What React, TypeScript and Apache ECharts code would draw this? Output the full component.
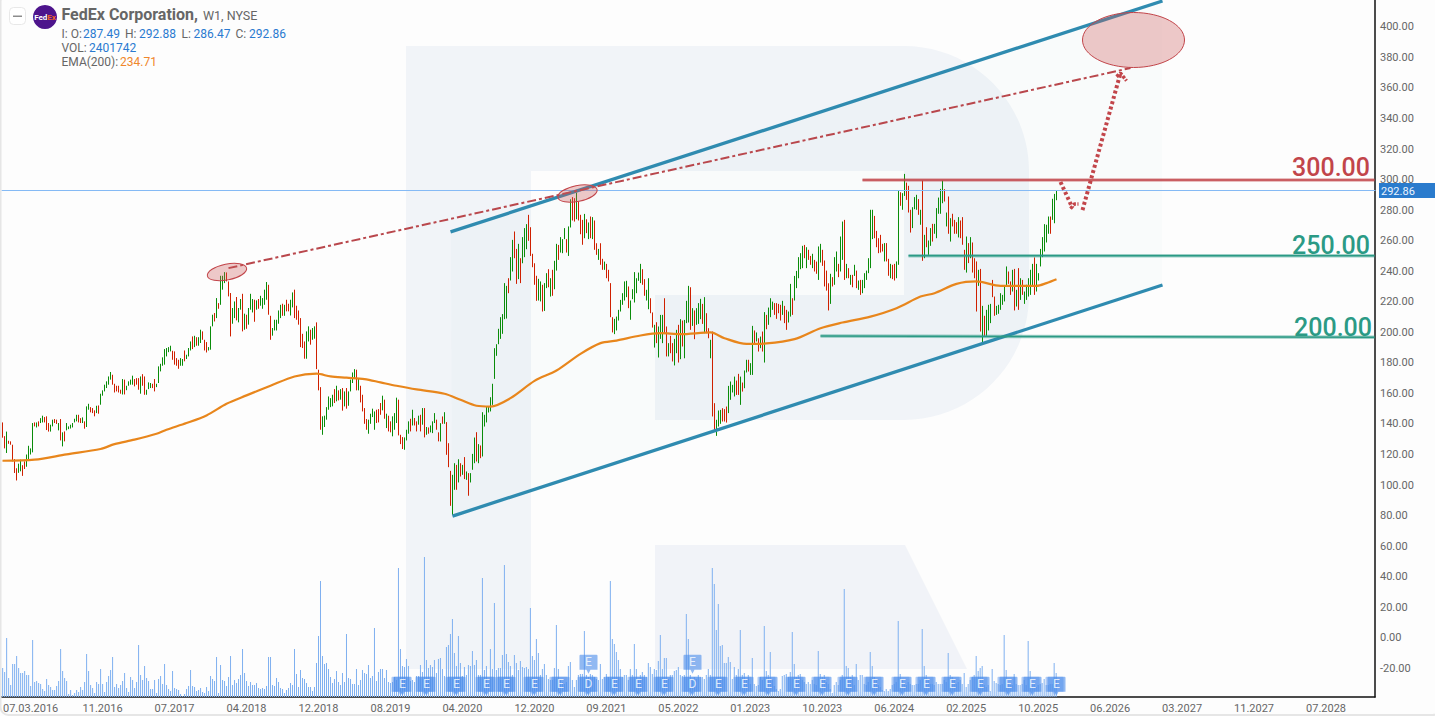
import React, { useEffect, useRef } from "react";
import * as echarts from "echarts";

const CATEGORY_COUNT = 687;
const FIRST_TICK = 14;
const TICK_STEP = 36;
const tickLabels = ["07.03.2016","11.2016","07.2017","04.2018","12.2018","08.2019","04.2020","12.2020","09.2021","05.2022","01.2023","10.2023","06.2024","02.2025","10.2025","06.2026","03.2027","11.2027","07.2028"];

const highs = [
141,132,135,129,128.6,126.4,117,111,114,116.6,
113,115.5,120,125.7,124,140.6,141,141,141.7,143.8,
145.4,144.5,145,140.6,139.5,142.8,143.2,142.8,140.6,143.2,
134.5,135.1,140.6,138.4,139.5,140.6,143.4,146,146,143.8,
144.3,141.7,151.5,153.2,151,150.4,148.9,151.9,152.1,159.8,
162,165.7,167.9,171.1,174,172.2,166.3,165,165,162.4,
169.4,169,165,167.9,169,171.6,169.4,170,170,171.1,
172.6,171.1,162.4,167.2,166.8,166.3,169.4,166.3,177.7,179.4,
183.6,189,189.7,190.3,191.2,187.9,187.5,183.1,182,183.1,
182.5,188.1,185.3,189.7,194,197.3,197.7,196.8,196.8,201.7,
200.6,195.1,193.6,190.3,203.9,211.5,212.6,222.4,219.1,237,
237,239.4,239.2,233.3,225.7,215.9,220.2,223.1,215.9,221.8,
225.2,212.2,211.5,215.9,225.2,221.8,221.3,220.9,221.8,223.9,
222.4,227.9,232.9,231.1,210.8,202.8,208.2,208.2,214.3,218,
218.7,218,221.3,218.7,221.3,226.1,227.9,217.4,214.3,209.3,
199,194,200.6,203.9,201.7,202.8,203.9,206.5,175.5,164.1,
145,145.4,151,158,156.9,159.1,162.8,165,162,162.8,
163.5,161.3,163.5,161.3,169,173.7,175.9,175.5,169.4,165,
159.1,150.4,143.2,142.8,146.7,150,148.2,149.3,149.7,153.7,
158.5,155.9,146.7,145.4,141.7,145,147.1,157.2,155.9,132.9,
131.4,131.2,136.2,141.7,143.4,149.3,143.9,141.7,145.4,146,
150.4,150.4,138,137.7,139,141.7,147.1,142.8,134.5,140.5,
144.9,147.7,141.2,127.4,109.3,106.7,114.3,113.2,116.9,114.3,
113.2,118.3,108.9,107.8,107.8,120.4,131.1,134.6,126.8,125.9,
147.7,146,151.4,151.4,157.5,166.3,189.6,192.2,202.3,209.9,
211.9,232.2,230.4,235.4,249.2,260.5,266,254.6,257.9,248.5,
262.3,268.2,270.8,276.9,268.8,251.4,245.2,237,235,233.3,
231.1,232.2,238.7,241.3,235.4,240.9,246.8,257.9,257.2,262.3,
261,268.2,261,269.3,287.1,288.5,287.8,291.5,285.6,276.9,
273.6,277.5,274,271.9,275.8,275.4,273.2,258.3,254.6,258.3,
248.1,246.3,244.8,240.9,232.2,209.9,208.8,210.3,214.7,221.2,
225.6,233.3,233.7,230,220.8,228.2,239.4,235.4,239.1,244.8,
241.3,234.8,227.8,235.4,222.3,213,204.9,206.6,203.8,211.4,
211.4,222.3,203.8,192.9,197.7,192.9,195.7,201.6,204.9,208.6,
207.7,208.1,220.6,230.4,229.5,215.8,214.3,215.8,219.1,221.9,
218.6,223,212.5,202.7,195.1,200.5,153.6,142.7,148.8,149.2,
150.3,149.7,151.4,164.9,167.8,165.6,171,168.4,172.8,171,
167.1,175,182,182,179.8,204.2,201.2,199.9,196.1,197.2,
200.5,213.2,211.4,216.2,222.3,220.1,219.1,219.1,218.6,218,
220.6,217.3,214.7,213.6,231.7,222.3,236.9,240.2,249.2,251.8,
256.6,257.2,255.7,254,250,251.4,247.4,246.3,256.2,257.9,
254,247,240.4,232.1,238.3,236.1,249.2,252.9,244.8,262.7,
272.5,273.6,244.8,242,237.6,237.6,244.2,240.4,233.9,234.3,
234.3,238.7,240.4,248.5,280.2,280.2,276.2,266.4,261.6,263.8,
257.9,258.4,258.4,248.1,244.8,244.2,244.8,246.4,292.6,291.7,
291.1,303.7,298,295.9,280.2,281.9,288.5,290,287.2,280.2,
299.4,263.8,268.8,260.1,268.2,271,271,281.3,288.2,293.9,
299.4,293.7,278.4,288.9,274.7,277.6,273.6,272.1,275.4,273.2,
275.4,254,262.7,258.4,262.3,258.8,248.5,246.4,240.9,241.5,
217.3,210.8,214.7,218,218.6,234.3,223.4,217.3,218,225.6,
224.5,230.4,243.1,239.8,233.3,240.9,241.5,227.8,242,235.4,
234.3,226.7,231.1,235.4,240.9,244.8,249,244.8,238.7,254.6,
262.3,270.8,270.4,275.8,275.8,287.4,290.6,292.88];

const lows = [
131,124,121,127,126.4,115.5,107.9,103,108,109,
106,110.5,112,117,120,121.4,138.4,137.7,138.4,140.6,
141,141,136,135,135,138.4,140.6,140,135.8,129.2,
125.3,128.6,135.8,136.6,137,137.7,141,141.7,141,140.6,
140.6,136.9,138,149.3,147.6,147.1,145,147.1,146.7,152.6,
158.5,161.3,163.5,165.7,169,165.7,160.6,161.3,160.6,159.8,
159.3,159.3,162.1,165,165.7,165.7,164.6,165.7,162.4,159.8,
165,159.1,159.1,162.8,163.5,163.5,161.3,164.1,166.8,174.4,
178.1,178.8,184.2,187,187.5,182,178.8,178.1,176.1,178.1,
178.1,181,182.5,184.2,188.1,189,190.3,191.2,191.2,193,
195.1,188.1,186.8,188.1,188.6,203.9,207.1,209.3,215.4,218,
227.9,232.2,233.3,223.5,197.3,205.6,209.3,207.8,206.5,214.8,
200.6,201.7,202.3,205,214.8,213,206.9,214.8,215.4,217.4,
215.4,218,221.3,211.5,195.1,197.8,201.2,201.2,205.6,209.3,
210.8,210.8,213.7,213.7,211,216.3,209.3,208.2,205,190.3,
189.7,182.7,182.7,194,191.9,195.1,195.8,175.9,162,136.2,
132.9,138,142.8,149.3,151,151.5,153.7,154.8,155.4,155.9,
148.7,151.5,150,151.9,161.3,166.8,170,162,162,154.1,
148.2,140.1,136.2,133.6,140.1,144.5,136.2,140.6,141,146,
148.9,143.4,137.3,135.1,134.5,131.9,136.2,140.6,132.5,126.8,
123.6,123.1,129.2,133.6,135.1,139,139,135.1,139.5,135.1,
139.5,131.2,132.9,133.6,134.5,134,140.6,136.2,128.6,128.5,
140.1,140.1,119.8,111.7,86.4,80.5,96.9,96.9,101.7,105.6,
106.7,103.9,103.4,93,101.7,110,114.3,115.4,114.3,117.6,
118.7,138.3,141,147.5,148.2,152.5,169.5,184.6,192.2,195.7,
199,208.6,209,225.6,233.9,239.8,248.5,231.7,234.8,232.2,
245.2,249.2,254.4,259.9,250,242.6,231.1,220.6,220.8,220.2,
213.6,214,228.9,229.5,223.4,223.9,228.2,240.4,247.4,252.2,
251.8,261,252.2,250,268.6,273.2,272.5,274,273.2,264.2,
257.3,261.6,264.9,261,261.6,261,254,250.7,247.4,244.2,
240.9,240.9,235.4,233.3,209.9,199.9,198.8,201.2,207.7,213.6,
218,220.8,223,215.8,208.2,221.7,219.5,225.6,233.7,232.2,
231.1,223.9,220.8,215.1,212.5,203.1,190,192.9,183.5,195.7,
192.9,199.4,184.2,184.2,186.3,180.9,178.3,186.3,180.2,182.4,
190.7,183,206,206.4,201.6,204.2,195.5,204.9,205.5,208.6,
205.5,199.4,199.4,196.1,183,144.9,136.1,132.2,138.3,140.1,
141.6,141.6,140.9,147.1,155.8,160.6,158,159,159,152.5,
161.2,163.4,173.7,174.3,172.1,172.1,191.8,194,187.4,189.6,
187.4,180.2,202,204.9,209.9,214.7,211.4,208.8,212.5,207.7,
211.4,206,201.6,206.4,210.3,211.4,220.8,228.9,235.4,241.3,
242,248.5,242,247.4,244.2,242,239.8,238.3,234.3,245.7,
243.5,230,227.3,214.3,218.6,230,231.1,239.8,236.1,239.8,
247.4,234.3,235.4,235.4,231.1,229.5,236.9,228.9,227.8,224.5,
225.6,228.9,234.3,238.7,242,261,261.6,255.7,251.8,252.2,
252.9,246.4,246.4,237,235.4,234.8,233.9,235.4,244.2,282.8,
280.2,289.3,286.7,278.4,265.3,268.2,280.6,280.2,276.9,270.4,
246.8,248.5,255.7,250.7,256.6,259.4,264.5,261.6,277.6,277.6,
284.5,285.6,269.3,264.5,259.4,269.3,264.5,264.5,262.1,261.6,
257.3,240.9,239.1,245.3,248.5,239.1,235.4,213.6,230.4,200.5,
192.2,197.7,197.7,201.2,206,223,210.8,211.4,212.1,214.7,
218,220.2,230,231.7,224.5,226.7,214.3,216.9,214.7,221.2,
224.5,218.6,221.2,223.4,224.5,230.4,224.5,226.7,233.9,243.1,
249.2,252.9,258.8,264.5,264.5,273.6,271.4,286.47];

const directions = ("RRGRRRRRGG RRGGGGRGRG GRRRGGRRGR GRGGGGGGRR GRGGRRRGRG GGGGGRRRRR GRGGGGRRRG RRGGGRRGGG GGGGGRRRRG GRGGGRGRGG RRRGGGRGRG GGRRRGGRGG " +
"RGRGGGRGRG GGGRRGGGGG RGRRGGRRRR RRGGRGGRRR GGGGGGRGRG RGRGGGGRGR RRRGGGGRRR GRGRRGGGRR RGGGRGRRGR GRGRGGGRRG RGRRRGGRGR GRGRGGGRGR GGGGGGGGGG GGGRGGRRGR " +
"GGGRRRRRGG RGGRGRGGRG GGRGGRRGRR RGRGRGRRGR RGRRRRGGGG GGGRGGGGGG RRGGRRGRGG GRRGRRGGRG RGGGRGRGGG RGRRGRRGGG RRRGGGGRRG RGGRGGRGRG RGRGGGRRRR GRRGGRGGGG " +
"GRGRRGRRGG RRRRGRGGRG GRGRGRGRGR GGGGGGRRRR RGRRGRRGGR GGRRRGGGRG RGRGGRGGGG GRGRGRRRGR RRGRGRRRGR GRGGGRRGGG GGGRRGRGRG RGGGGGRGGG GGGGRGGG").replace(/ /g, "");

const volumes = [
2.9,2.5,5.9,1.9,1.2,3.3,3.3,4.1,2.9,2.4,2.4,2.6,2.2,2.2,1.1,5.7,1.5,1.6,1.4,1.3,.8,.6,1.8,1.2,1,.7,.7,1.1,1.6,4.8,
2.6,1.9,1.6,.3,.7,.2,.4,.7,.5,1,.7,1.5,4.3,2.6,1.2,.9,.4,1.5,1.3,2.8,1.3,.5,1.5,2.1,2.7,4,1,1.3,.9,1.2,
1.6,2.4,.9,.5,2,1.7,.9,1.5,5.2,2.2,1.7,3.1,1.9,1.6,.8,.8,1.7,.4,1.8,2.1,1.3,3.3,1.2,.8,.6,2.6,.9,.8,.7,.3,
.1,.3,.8,1.1,2.7,1.1,1,.6,.7,.9,.5,.4,1,.6,2.1,1.8,1.6,4,.4,3.2,1.7,1.6,1.1,2,4.1,1.2,1.7,1.4,1.8,
2.2,4.8,2.4,1.6,1.1,1.5,1.2,1.2,1.4,.9,.8,.9,.8,1.1,4,4,1.2,1.1,1.9,1.5,.9,.8,.4,.7,.9,1.4,1.2,4.8,2.3,1,
2.7,1.9,1.8,1.4,1,1,.6,1,3.4,6.1,11.6,4.1,3.3,3.4,2.8,2,1.4,1.8,2.6,1.5,1.2,2.4,1.5,6.3,1.9,1.8,1.3,1.3,2.8,1.2,
1.7,2.7,2.4,2.3,3.2,1.9,2.1,6.9,1.6,2.5,2.8,2.8,1.9,2.7,1.5,1.4,1.5,2,1.7,12.9,4.8,3.1,3,3.8,3.1,1.6,1.7,1.5,2.1,2.1,
3.2,2.5,14,3.7,2.9,3.2,3,3.7,2.4,3.8,3.9,2.8,2.1,5,5.2,6.3,7.8,4.4,3.1,6.1,3.4,2.1,3,2.2,3.2,3.1,4.6,3.2,3.7,2.2,
2.2,11.9,2.7,3.1,1.3,4.8,2.8,9.4,2.7,2.9,2.9,4.2,13.2,4.3,3.5,3.1,2.2,4.2,3.4,2.7,3.6,3,2.9,3,2.8,8.9,4.1,3.7,5.8,4.4,2.2,2.8,3.3,2.2,
1.8,1.7,1.7,2.9,7.2,2.8,1.7,1.5,1.3,1.5,3.1,3.5,1.7,1,1.7,2.2,2.3,2.3,6.6,2.2,2,2.3,2.2,2,1.8,1.7,3.3,1.8,2,2.3,2,
11.6,5.8,5.3,4.5,3.7,2.8,2,2.2,2.2,1.7,2.8,2.2,5.3,2.8,1.7,2.2,2.5,2.2,2,3.4,3,2.3,2.8,2.7,3.6,6.2,2.8,3.9,3.9,1.8,
2.2,2.2,2.6,2.7,3,2.2,2.1,2.2,8.3,5.8,2.2,1.8,2,1.8,2.2,2,2,1.8,2.2,2.8,2.2,12.9,11.3,6.7,9.3,5.1,5.2,3.4,3.4,4,
3.5,1.8,3,2.2,2.8,6.7,2.2,2.4,1.7,2.2,1.3,3.9,1.3,1.1,1.2,2,1.7,7.1,2.6,2.2,4.5,1.7,1.1,.8,.6,.8,2.1,2.2,2.3,2,
2.5,6.5,3.3,2,2.2,2.3,1.7,1.5,1.3,1.5,1.3,1.7,1.3,1.2,4.6,2.3,2,2.2,1.5,1.3,.8,.4,1.2,1.5,1.2,1.7,2.2,10.8,3.1,2.9,
2,2.2,1.2,3.3,1.7,2.2,2.2,1.3,1.2,1.5,4.5,3.1,2,1.8,1.2,1,.7,.6,.8,.6,.8,1.2,1.3,1.5,7.6,2.3,1.7,1.3,1.2,1.5,
1.3,1.2,1.2,1.3,1.3,1.7,6.8,3.1,2.2,1.7,1.3,1.3,1.2,1.5,1.3,1.3,1.3,1.7,1.5,4.4,2.2,2,1.7,1.3,1.5,
1.7,1.3,2.4,1,1.3,1.7,2,2.2,4.1,2.6,2.9,3.1,1.2,1,1.2,.6,2.8,1.6,1.4,1.3,1.2,1.3,6.2,2.7,1.3,1.2,1.2,2.3,1.3,1.2,
1.2,1.3,1.7,1.2,5.6,2.6,1.4,1.3,1,1.2,1.3,1.4,1.8,1.2,1.2,1.3,1.3,3.4,2.401742];

const emaBars = [0,16,32,49,56,66,77,82,92,102,112,122,134,146,157,164,172,181,189,197,207,221,229,237,244,254,266,277,289,299,307,319,329,339,354,361,372,382,396,409,420,434,447,459,466,477,487,499,517,522,527];
const emaValues = [115.9,116.6,120.1,123.6,126.8,129.7,133.6,136.2,140.6,145.6,153.2,158.7,165,171.1,172.9,171.1,170.3,169.4,167.2,165,162.6,159.8,155.8,151.9,151.4,156.9,168.2,175,185.9,192.9,194.6,197.9,199.4,198.8,199.9,196.1,192.4,192.7,195.5,202.7,206.4,210.3,215.8,223.4,225.6,231.7,233.3,230.4,230.4,232.2,234.71];

const earningsBars = [200,212,227,242,252,266,279,293,306,318,331,345,358,371,383,397,410,423,436,450,462,475,489,503,515,527];
const upperEarningsBars = [293,345];
const dividendBars = [293,345];

const channelUpper = [[224,265.7],[580,416.9]];
const channelLower = [[225,79.7],[580,231]];
const resistanceTrend = [[113,242],[564,373]];
const level300 = [[430,299.7],[686,299.7]];
const level250 = [[453,250.1],[686,250.1]];
const level200 = [[409,197.6],[686,196.7]];
const forecastDown = [[529,298.4],[535,281.4]];
const forecastDownHead = [[534,281],[536,284],[538,284]];
const forecastUp = [[540,280],[559,369.7]];
const forecastUpHead = [[557,367.4],[559,369.7],[562,364.7]];
const lastPrice = 292.86;

const R_PATH = "M406 46H904C973 46 1029 102 1029 171V295C1029 364 973 420 904 420H655V295H904V171H531V669H406Z";
const FONT = "Roboto, sans-serif";
const RED = "#c2454a";
const GREEN_LEVEL = "#2b9a85";
const BLUE_LINE = "#2f8bb0";
const GREY = "#666666";
const BLUE_TEXT = "#2a7ad0";

echarts.graphic.registerShape("rLogo", echarts.graphic.extendPath(R_PATH, {}));

function txt(text: string, x: number, y: number, fill: string, fontSize = 12, extra: any = {}) {
  return { type: "text", x, y, z: 60, silent: true, style: { text, fill, fontSize, fontFamily: FONT, verticalAlign: "middle", ...extra } };
}

function annotation(data: number[][], color: string, width: number, type: any = "solid", opacity = 1) {
  return {
    type: "line", xAxisIndex: 0, yAxisIndex: 0, data, showSymbol: false, symbol: "none", silent: true, z: 6, clip: false,
    lineStyle: { color, width, type, opacity, cap: "butt" },
  };
}

const PIN = "path://M1 0H17Q18 0 18 1V15H11L9 19L7 15H0V1Q0 0 1 0Z";

export default function App() {
  const ref = useRef<HTMLDivElement>(null);
  useEffect(() => {
    const chart = echarts.init(ref.current!, undefined, { renderer: "svg" });
    const candles = highs.map((h, i) => {
      const up = directions[i] === "G";
      return [up ? lows[i] : h, up ? h : lows[i], lows[i], h];
    });
    const categories = Array.from({ length: CATEGORY_COUNT }, (_, i) => {
      const k = (i - FIRST_TICK) / TICK_STEP;
      return Number.isInteger(k) && tickLabels[k] ? tickLabels[k] : "";
    });
    const isTick = (i: number) => (i - FIRST_TICK) % TICK_STEP === 0 && i >= FIRST_TICK;
    const lowY = -31.8;
    const highY = -17.3;
    const pinItem = (i: number, y: number, t: string) => ({ value: [i, y], t });
    const lowerPins = earningsBars.map((b) => pinItem(b, lowY, dividendBars.includes(b) ? "D" : "E"));
    const upperPins = upperEarningsBars.map((b) => pinItem(b, highY, "E"));
    const ghostPins = earningsBars.map((b) => pinItem(b - 1, lowY, ""));

    chart.setOption({
      animation: false,
      backgroundColor: "#fdfdfd",
      grid: [
        { left: 1.5, width: 1374, top: 637.8 - 400 * 1.5275, height: 440 * 1.5275 },
        { left: 1, width: 1374, top: 0, height: 697 },
      ],
      xAxis: [
        { type: "category", gridIndex: 0, data: categories, show: false },
        {
          type: "category", gridIndex: 1, data: categories,
          axisLine: { lineStyle: { color: "#111", width: 1.5 } },
          axisTick: { alignWithLabel: true, interval: (i: number) => isTick(i), length: 3, lineStyle: { color: "#111", width: 1 } },
          axisLabel: { interval: (i: number) => isTick(i), color: GREY, fontSize: 11, fontFamily: FONT, margin: 6 },
        },
      ],
      yAxis: [
        {
          type: "value", gridIndex: 0, position: "right", min: -40, max: 400, interval: 20,
          splitLine: { show: false }, axisLine: { show: false }, axisTick: { show: false },
          axisLabel: { color: GREY, fontSize: 11, fontFamily: FONT, margin: 4.5, padding: [2, 0, 0, 0], showMinLabel: false, formatter: (v: number) => v.toFixed(2) },
        },
        {
          type: "value", gridIndex: 1, position: "right", min: 0, max: 69.7,
          splitLine: { show: false }, axisTick: { show: false }, axisLabel: { show: false },
          axisLine: { show: true, lineStyle: { color: "#111", width: 1.5 } },
        },
      ],
      series: [
        {
          type: "bar", xAxisIndex: 1, yAxisIndex: 1, data: volumes, barWidth: 1, silent: true, z: 1,
          itemStyle: { color: "#7fb0f0" },
        },
        {
          type: "candlestick", xAxisIndex: 0, yAxisIndex: 0, data: candles, barWidth: 0, silent: true, z: 3,
          itemStyle: { color: "#0a8c0a", color0: "#cf2000", borderColor: "#0a8c0a", borderColor0: "#cf2000", borderWidth: 1 },
          markLine: {
            silent: true, symbol: "none", animation: false, label: { show: false },
            lineStyle: { color: "#85baf5", width: 1, type: "solid" }, data: [{ yAxis: lastPrice }],
          },
        },
        {
          type: "line", xAxisIndex: 0, yAxisIndex: 0, silent: true, showSymbol: false, symbol: "none", z: 4, smooth: 0.3,
          data: emaBars.map((b, i) => [b, emaValues[i]]),
          lineStyle: { color: "#e8861c", width: 2.2 },
        },
        annotation(channelUpper, BLUE_LINE, 3.3),
        annotation(channelLower, BLUE_LINE, 3.3),
        annotation(resistanceTrend, "#b9474c", 2, [9, 3, 3, 3]),
        annotation(level300, RED, 3.5, "solid", 0.45),
        annotation(level300, RED, 1.5),
        annotation(level250, GREEN_LEVEL, 3.5, "solid", 0.45),
        annotation(level250, GREEN_LEVEL, 1.5),
        annotation(level200, GREEN_LEVEL, 3.5, "solid", 0.45),
        annotation(level200, GREEN_LEVEL, 1.5),
        annotation(forecastDown, RED, 4, [3, 2.5]),
        annotation(forecastDownHead, RED, 3.5, [3, 1.5]),
        annotation(forecastUp, RED, 4, [3, 2.5]),
        annotation(forecastUpHead, RED, 3.5, [3, 1.5]),
        {
          type: "scatter", xAxisIndex: 0, yAxisIndex: 0, data: ghostPins, symbol: PIN, symbolSize: [18, 19], silent: true, z: 7,
          itemStyle: { color: "rgba(74,140,235,0.55)" },
        },
        {
          type: "scatter", xAxisIndex: 0, yAxisIndex: 0, data: [...lowerPins, ...upperPins], symbol: PIN, symbolSize: [18, 19], silent: true, z: 8,
          itemStyle: { color: "rgba(74,140,235,0.75)" },
          label: { show: true, position: "inside", offset: [0, -2], color: "#fff", fontSize: 12, fontFamily: FONT, formatter: (p: any) => p.data.t },
        },
      ],
      graphic: {
        elements: [
          { type: "rLogo", x: 0, y: 0, z: -5, silent: true, style: { fill: "#f1f4f8" } },
          { type: "polygon", z: -5, silent: true, shape: { points: [[655, 545], [905, 545], [967, 669], [655, 669]] }, style: { fill: "#f1f3f8" } },
          { type: "polygon", z: -4, silent: true, shape: { points: [[451, 232], [1162, 1], [1162, 285.5], [452, 516]] }, style: { fill: "rgba(47,139,176,0.018)" } },
          { type: "rect", z: 70, silent: true, shape: { x: 0.5, y: -6, width: 1440, height: 721, r: 8 }, style: { fill: "none", stroke: "#e6e6e6", lineWidth: 2 } },
          { type: "ellipse", x: 227, y: 272, rotation: 0.2, z: 50, silent: true, shape: { cx: 0, cy: 0, rx: 20, ry: 8 }, style: { fill: "rgba(205,90,90,0.32)", stroke: RED, lineWidth: 1 } },
          { type: "ellipse", x: 577.5, y: 193.5, rotation: 0.2, z: 50, silent: true, shape: { cx: 0, cy: 0, rx: 20, ry: 8 }, style: { fill: "rgba(205,90,90,0.32)", stroke: RED, lineWidth: 1 } },
          { type: "ellipse", x: 1133.5, y: 40, z: 50, silent: true, shape: { cx: 0, cy: 0, rx: 51, ry: 27.5 }, style: { fill: "rgba(205,90,90,0.32)", stroke: RED, lineWidth: 1 } },
          txt("300.00", 1292, 167.5, RED, 25, { fontWeight: 500 }),
          txt("250.00", 1292, 245.5, GREEN_LEVEL, 25, { fontWeight: 500 }),
          txt("200.00", 1294, 327.5, GREEN_LEVEL, 25, { fontWeight: 500 }),
          { type: "rect", z: 59, silent: true, shape: { x: 1379, y: 183, width: 56, height: 15 }, style: { fill: "#2a7bcd" } },
          txt("292.86", 1381, 191, "#eaf3ff", 11),
          { type: "rect", z: 59, silent: true, shape: { x: 9.5, y: 7.5, width: 16, height: 17, r: 4 }, style: { fill: "#fff", stroke: "#e8e8e8", lineWidth: 1 } },
          { type: "rect", z: 60, silent: true, shape: { x: 13, y: 15.5, width: 9, height: 1.5 }, style: { fill: "#8c8c8c" } },
          { type: "circle", z: 59, silent: true, shape: { cx: 45, cy: 17, r: 12 }, style: { fill: "#4d148c" } },
          {
            type: "text", x: 45, y: 17, z: 60, silent: true,
            style: {
              text: "{a|Fed}{b|Ex}", align: "center", verticalAlign: "middle",
              rich: { a: { fill: "#fff", fontSize: 8, fontWeight: 700, fontFamily: FONT }, b: { fill: "#f26522", fontSize: 8, fontWeight: 700, fontFamily: FONT } },
            },
          },
          txt("FedEx Corporation,", 61.5, 14.5, GREY, 16, { fontWeight: 700 }),
          txt("W1, NYSE", 203, 15.5, GREY, 12.5),
          txt("I: O:", 61.5, 33.5, GREY),
          txt("287.49", 83, 33.5, BLUE_TEXT),
          txt("H:", 125, 33.5, GREY),
          txt("292.88", 139, 33.5, BLUE_TEXT),
          txt("L:", 181.5, 33.5, GREY),
          txt("286.47", 193.5, 33.5, BLUE_TEXT),
          txt("C:", 235.5, 33.5, GREY),
          txt("292.86", 249, 33.5, BLUE_TEXT),
          txt("VOL:", 61.5, 48, GREY),
          txt("2401742", 89, 48, BLUE_TEXT),
          txt("EMA(200):", 61.5, 62, GREY),
          txt("234.71", 120, 62, "#f0862a"),
        ],
      },
    });
    return () => chart.dispose();
  }, []);
  return <div ref={ref} style={{ position: "fixed", left: 0, top: 0, width: 1435, height: 716 }} />;
}
